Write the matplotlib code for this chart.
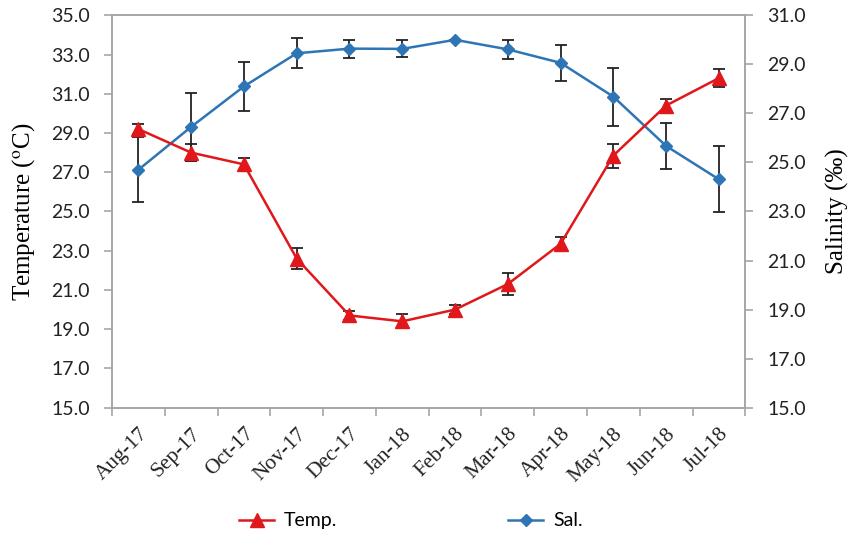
import matplotlib
matplotlib.use("Agg")
import matplotlib.pyplot as plt
import numpy as np

months = ["Aug-17", "Sep-17", "Oct-17", "Nov-17", "Dec-17", "Jan-18",
          "Feb-18", "Mar-18", "Apr-18", "May-18", "Jun-18", "Jul-18"]
temp = [29.2, 28.0, 27.4, 22.6, 19.7, 19.4, 20.0, 21.3, 23.35, 27.85, 30.4, 31.8]
temp_err = [0.25, 0.43, 0.35, 0.53, 0.24, 0.35, 0.25, 0.58, 0.37, 0.61, 0.35, 0.46]
sal = [24.7, 26.45, 28.1, 29.45, 29.64, 29.63, 30.0, 29.61, 29.06, 27.68, 25.67, 24.31]
sal_err = [1.33, 1.40, 0.99, 0.62, 0.37, 0.35, 0.0, 0.38, 0.73, 1.18, 0.95, 1.35]

red = "#e0181b"
blue = "#2e75b6"
grey = "#a6a6a6"
tick_font = "Lato"
serif = "Liberation Serif"
plt.rcParams["mathtext.fontset"] = "stix"

fig = plt.figure(figsize=(8.51, 5.36), dpi=100)
ax = fig.add_axes([0.1316, 0.2394, 0.7442, 0.7321])
ax2 = ax.twinx()

x = np.arange(len(months))

ax.errorbar(x, temp, yerr=temp_err, fmt="none", ecolor="#222222", elinewidth=1.3,
            capsize=4, capthick=1.3, zorder=2)
l1, = ax.plot(x, temp, color=red, lw=1.8, marker="^", ms=10, zorder=3, label="Temp.")
ax2.errorbar(x, sal, yerr=sal_err, fmt="none", ecolor="#222222", elinewidth=1.3,
             capsize=4, capthick=1.3, zorder=2)
l2, = ax2.plot(x, sal, color=blue, lw=1.8, marker="D", ms=6, zorder=3, label="Sal.")

ax.set_zorder(ax2.get_zorder() + 1)
ax.patch.set_visible(False)

ax.set_xlim(-0.5, len(months) - 0.5)
ax.set_ylim(15, 35)
ax.set_yticks(np.arange(15, 35.1, 2))
ax.set_yticklabels([f"{v:.1f}" for v in np.arange(15, 35.1, 2)],
                   fontsize=14, fontfamily=tick_font, color="#222222")
ax2.set_ylim(15, 31)
ax2.set_yticks(np.arange(15, 31.1, 2))
ax2.set_yticklabels([f"{v:.1f}" for v in np.arange(15, 31.1, 2)],
                    fontsize=14, fontfamily=tick_font, color="#222222")

ax.set_xticks(x)
ax.set_xticklabels(months, rotation=45, ha="right", rotation_mode="anchor",
                   fontsize=15.5, fontfamily=serif, color="#222222")
ax.tick_params(axis="x", which="major", length=0, pad=12)
ax.set_xticks(np.arange(-0.5, len(months), 1), minor=True)
ax.tick_params(axis="x", which="minor", length=6, color=grey, width=1.2)
ax.tick_params(axis="y", length=6, color=grey, width=1.2, pad=10)
ax2.tick_params(axis="y", length=6, color=grey, width=1.2, pad=10)

for a in (ax, ax2):
    for s in a.spines.values():
        s.set_color(grey)
        s.set_linewidth(1.2)

ax.set_ylabel(r"Temperature ($^{\mathrm{o}}$C)", fontsize=18, fontfamily=serif, labelpad=10)
ax2.set_ylabel("Salinity (‰)", fontsize=18, fontfamily=serif, labelpad=14)

fig.legend(handles=[l1, l2], loc="center", bbox_to_anchor=(0.483, 0.028), ncol=2,
           frameon=False, handlelength=1.8, columnspacing=8.8, handletextpad=0.5,
           prop={"family": tick_font, "size": 14})

fig.savefig("out.png", dpi=100)
